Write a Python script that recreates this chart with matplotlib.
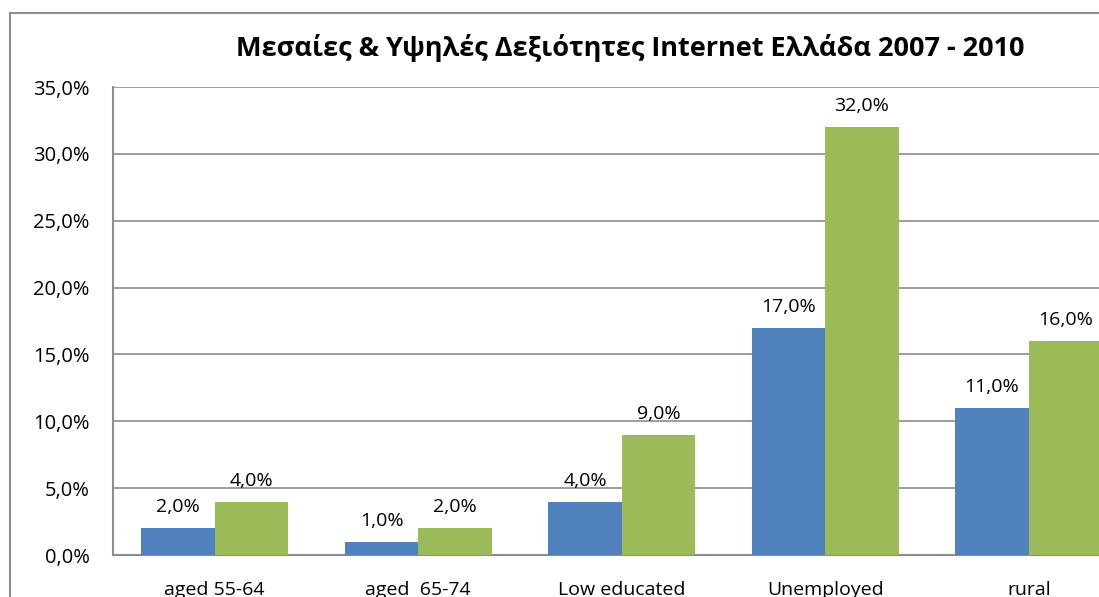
import matplotlib
matplotlib.use("Agg")
import matplotlib.pyplot as plt
from matplotlib.lines import Line2D
import numpy as np

categories = ["aged 55-64", "aged  65-74", "Low educated", "Unemployed", "rural"]
series_2007 = [2.0, 1.0, 4.0, 17.0, 11.0]
series_2010 = [4.0, 2.0, 9.0, 32.0, 16.0]
yticks = [0, 5, 10, 15, 20, 25, 30, 35]
title = "Μεσαίες & Υψηλές Δεξιότητες Internet Ελλάδα 2007 - 2010"

W, H = 1099, 597
fig = plt.figure(figsize=(W / 100, H / 100), dpi=100)
plt.rcParams['font.family'] = ['Open Sans', 'DejaVu Sans']

left_px, right_px, top_px, bot_px = 113, 1130.5, 87, 555
ax = fig.add_axes([left_px / W, 1 - bot_px / H, (right_px - left_px) / W, (bot_px - top_px) / H])

x = np.arange(len(categories))
bw = 0.361
b1 = ax.bar(x - bw / 2, series_2007, bw, color="#4F81BD", zorder=3)
b2 = ax.bar(x + bw / 2, series_2010, bw, color="#9BBB59", zorder=3)

fs = 14
for bars, vals in ((b1, series_2007), (b2, series_2010)):
    for r, v in zip(bars, vals):
        ax.annotate(f"{v:.1f}%".replace(".", ","), (r.get_x() + r.get_width() / 2, v),
                    xytext=(0, 8.5), textcoords="offset points", ha="center", va="bottom",
                    fontsize=fs, color="#000000")

ax.set_xlim(-0.5, len(categories) - 0.5)
ax.set_ylim(0, 35)
ax.set_yticks(yticks)
ax.set_yticklabels([f"{t:.1f}%".replace(".", ",") for t in yticks], fontsize=14.5)
ax.set_xticks(x)
ax.set_xticklabels(categories, fontsize=fs)
ax.tick_params(axis="y", length=0, pad=17)
ax.tick_params(axis="x", length=0, pad=19)
ax.grid(axis="y", color="#8c8c8c", linewidth=1.2, zorder=0)
for s in ("top", "right"):
    ax.spines[s].set_visible(False)
for s in ("left", "bottom"):
    ax.spines[s].set_color("#8c8c8c")
    ax.spines[s].set_linewidth(1.5)

# outer chart border (cropped at right/bottom)
bx, by = 10 / W, 1 - 13 / H
fig.add_artist(Line2D([bx, bx], [by, -0.01], color="#8c8c8c", linewidth=1.5, transform=fig.transFigure))
fig.add_artist(Line2D([bx, 1.01], [by, by], color="#8c8c8c", linewidth=1.5, transform=fig.transFigure))

fig.text(630 / W, 1 - 48 / H, title, ha="center", va="center", fontsize=19.5, fontweight="bold")

fig.savefig("out.png", dpi=100)
